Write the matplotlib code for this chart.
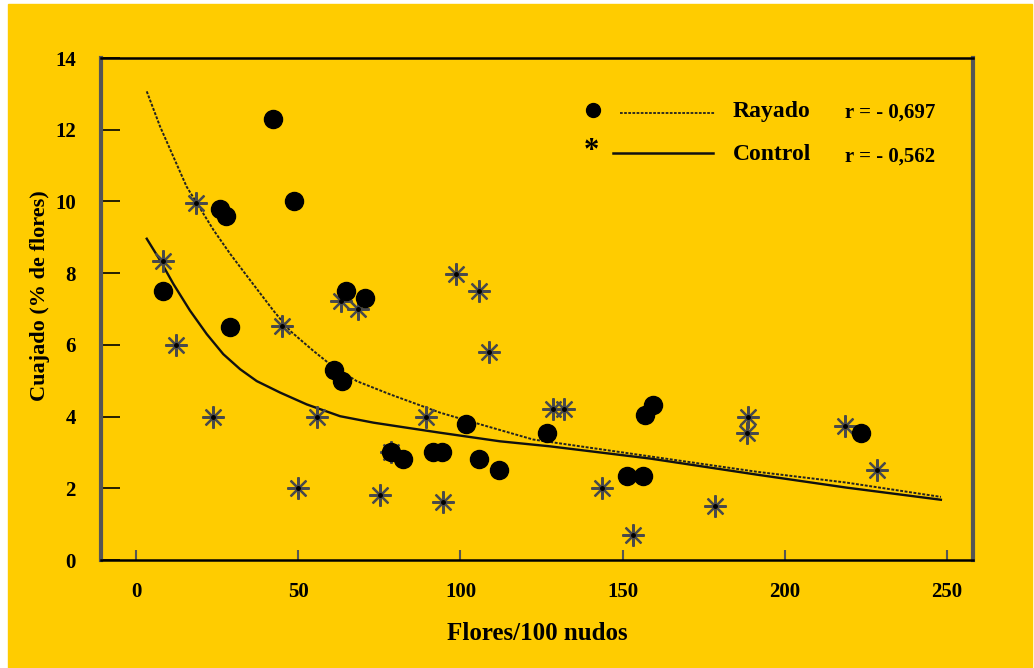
import numpy as np
import matplotlib
matplotlib.use('Agg')
import matplotlib.pyplot as plt
from matplotlib.patches import Rectangle
from matplotlib.lines import Line2D

plt.rcParams['font.family'] = ['Liberation Serif', 'DejaVu Serif']
plt.rcParams['font.weight'] = 'bold'

# Rayado (dots)
ray_x = [8.3, 42.2, 25.9, 27.7, 48.7, 29.0, 64.7, 70.6, 61.0, 63.5, 78.6, 82.3,
         91.6, 94.3, 101.7, 105.7, 111.9, 126.7, 151.4, 156.3, 156.9, 159.4, 223.5]
ray_y = [7.5, 12.3, 9.8, 9.6, 10.0, 6.5, 7.5, 7.3, 5.3, 5.0, 3.02, 2.83,
         3.02, 3.02, 3.8, 2.83, 2.52, 3.53, 2.35, 2.35, 4.03, 4.31, 3.53]

# Control (asterisks)
ctl_x = [8.3, 12.3, 18.5, 23.7, 45.0, 50.0, 55.8, 63.2, 68.4, 75.2, 78.6, 89.4,
         94.6, 98.6, 105.7, 108.8, 128.5, 132.0, 143.6, 153.2, 178.5, 188.3,
         188.7, 218.6, 228.4]
ctl_y = [8.35, 6.0, 9.97, 4.0, 6.53, 2.02, 4.0, 7.23, 7.0, 1.82, 3.02, 4.0,
         1.62, 7.98, 7.5, 5.8, 4.2, 4.2, 2.02, 0.7, 1.51, 3.53, 4.0, 3.73, 2.52]

# fitted curves
ray_fit_x = [3.3, 7.4, 11.5, 15.6, 18.7, 23.9, 29.0, 35.2, 42.3, 47.5, 54.7,
             59.8, 68.0, 78.3, 93.7, 102.0, 122.4, 158.4, 191.4, 218.9, 248.1]
ray_fit_y = [13.07, 12.09, 11.25, 10.41, 9.96, 9.20, 8.54, 7.80, 6.96, 6.39,
             5.83, 5.46, 4.99, 4.62, 4.11, 3.89, 3.36, 2.89, 2.46, 2.16, 1.76]
ctl_fit_x = [3.3, 7.4, 11.5, 16.6, 21.8, 26.9, 32.1, 37.2, 44.4, 52.6, 62.9,
             73.2, 83.4, 93.7, 112.2, 127.6, 158.4, 191.4, 218.9, 248.1]
ctl_fit_y = [8.96, 8.36, 7.70, 6.96, 6.30, 5.74, 5.32, 4.99, 4.67, 4.34, 4.01,
             3.83, 3.69, 3.55, 3.31, 3.17, 2.83, 2.38, 2.02, 1.68]

xticks = [0, 50, 100, 150, 200, 250]
yticks = [0, 2, 4, 6, 8, 10, 12, 14]

yellow = '#FFCC00'

fig = plt.figure(figsize=(10.34, 6.68), dpi=100, facecolor='white')
fig.patches.append(Rectangle((8 / 1034, 0), 1024 / 1034, 664 / 668,
                             transform=fig.transFigure, color=yellow, zorder=-10))

ax = fig.add_axes([101 / 1034, 108 / 668, 872 / 1034, 502 / 668])
ax.set_facecolor(yellow)
ax.set_xlim(-10.8, 258)
ax.set_ylim(0, 14)

ax.plot(ray_fit_x, ray_fit_y, color='#222222', lw=1.4, ls=(0, (1.5, 0.8)))
ax.plot(ctl_fit_x, ctl_fit_y, color='#111111', lw=1.7)

ax.plot(ctl_x, ctl_y, ls='none', marker=(8, 2, 0), ms=16, mew=1.6,
        color='#4a4a4a')
ax.plot(ctl_x, ctl_y, ls='none', marker='o', ms=2.5, color='black')
ax.plot(ray_x, ray_y, ls='none', marker='o', ms=13, color='black')

for s in ['left', 'right']:
    ax.spines[s].set_color('#555555')
    ax.spines[s].set_linewidth(3)
for s in ['top', 'bottom']:
    ax.spines[s].set_color('black')
    ax.spines[s].set_linewidth(1.8)

ax.set_xticks(xticks)
ax.set_yticks(yticks)
ax.tick_params(axis='y', direction='in', length=14, width=1.2, pad=18,
               labelsize=15, right=False)
ax.tick_params(axis='x', direction='in', length=7, width=1.5, pad=16,
               labelsize=15, color='#555555')
for lab in ax.get_xticklabels() + ax.get_yticklabels():
    lab.set_fontweight('bold')

ax.set_xlabel('Flores/100 nudos', fontsize=18, fontweight='bold', labelpad=14)
ax.set_ylabel('Cuajado (% de flores)', fontsize=16, fontweight='bold')
ax.yaxis.set_label_coords(-0.058, 0.526)

# legend drawn by hand
def ax_x(px):
    return (px - 101) / 872

def ax_y(py):
    return (560 - py) / 502

ax.add_line(Line2D([ax_x(593)], [ax_y(110)], marker='o', ms=10, color='black',
                   transform=ax.transAxes))
ax.add_line(Line2D([ax_x(620), ax_x(715)], [ax_y(113), ax_y(113)],
                   color='#222222', lw=1.3, ls=(0, (1.5, 0.8)),
                   transform=ax.transAxes))
ax.text(ax_x(591), ax_y(166), '*', transform=ax.transAxes, fontsize=22,
        ha='center', va='bottom', fontweight='bold')
ax.add_line(Line2D([ax_x(613), ax_x(713)], [ax_y(153), ax_y(153)],
                   color='#111111', lw=1.8, transform=ax.transAxes))
ax.text(ax_x(733), ax_y(111), 'Rayado', transform=ax.transAxes, fontsize=17,
        ha='left', va='center', fontweight='bold')
ax.text(ax_x(733), ax_y(155), 'Control', transform=ax.transAxes, fontsize=17,
        ha='left', va='center', fontweight='bold')
ax.text(ax_x(845), ax_y(113), 'r = - 0,697', transform=ax.transAxes,
        fontsize=15, ha='left', va='center', fontweight='bold')
ax.text(ax_x(845), ax_y(157), 'r = - 0,562', transform=ax.transAxes,
        fontsize=15, ha='left', va='center', fontweight='bold')

fig.savefig('out.png', dpi=100, facecolor='white')
